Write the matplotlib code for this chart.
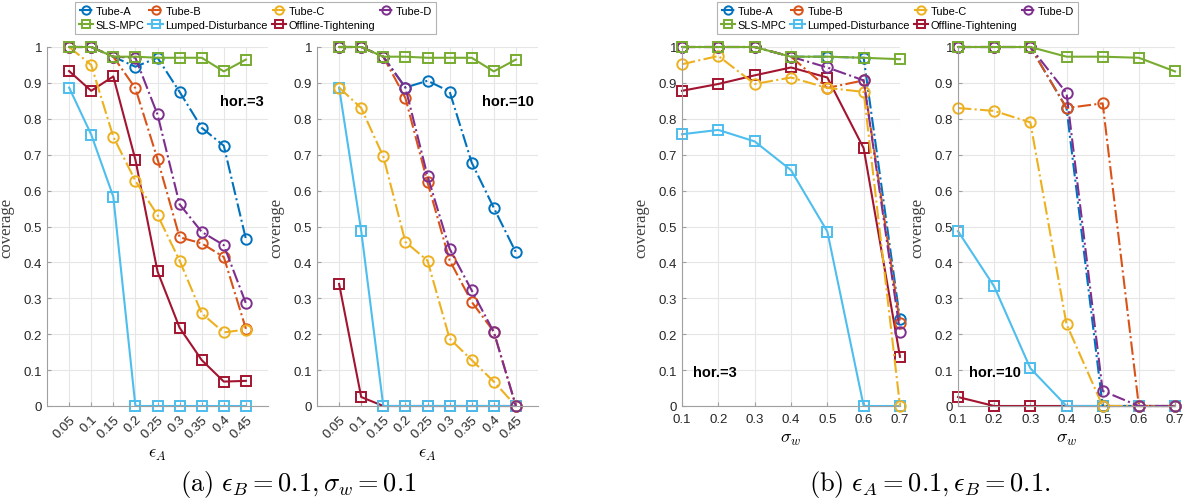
import numpy as np
import matplotlib
matplotlib.use("Agg")
import matplotlib.pyplot as plt

plt.rcParams['font.family'] = ['Liberation Sans', 'DejaVu Sans']
plt.rcParams['mathtext.fontset'] = 'cm'

# ---- data ----
eps_a = [0.05, 0.1, 0.15, 0.2, 0.25, 0.3, 0.35, 0.4, 0.45]
sigma_w = [0.1, 0.2, 0.3, 0.4, 0.5, 0.6, 0.7]

names = ['Tube-A', 'Tube-B', 'Tube-C', 'Tube-D', 'SLS-MPC',
         'Lumped-Disturbance', 'Offline-Tightening']

# (a) sweep over eps_A, horizon 3
a3_tube_a = [1, 1, 0.973, 0.945, 0.970, 0.875, 0.775, 0.725, 0.465]
a3_tube_b = [1, 1, 0.973, 0.885, 0.688, 0.470, 0.453, 0.415, 0.215]
a3_tube_c = [1, 0.950, 0.750, 0.627, 0.532, 0.405, 0.258, 0.205, 0.213]
a3_tube_d = [1, 1, 0.973, 0.970, 0.812, 0.562, 0.485, 0.448, 0.286]
a3_sls = [1, 1, 0.973, 0.973, 0.970, 0.970, 0.970, 0.932, 0.965]
a3_lumped = [0.887, 0.756, 0.583, 0, 0, 0, 0, 0, 0]
a3_offline = [0.933, 0.878, 0.918, 0.686, 0.375, 0.218, 0.128, 0.068, 0.070]

# (a) sweep over eps_A, horizon 10
a10_tube_a = [1, 1, 0.973, 0.887, 0.906, 0.876, 0.678, 0.552, 0.428]
a10_tube_b = [1, 1, 0.973, 0.858, 0.623, 0.406, 0.290, 0.207, 0]
a10_tube_c = [0.887, 0.830, 0.695, 0.457, 0.405, 0.188, 0.128, 0.068, 0]
a10_tube_d = [1, 1, 0.973, 0.887, 0.641, 0.438, 0.322, 0.206, 0]
a10_sls = [1, 1, 0.973, 0.973, 0.970, 0.970, 0.970, 0.932, 0.965]
a10_lumped = [0.887, 0.488, 0, 0, 0, 0, 0, 0, 0]
a10_offline = [0.340, 0.025, 0, 0, 0, 0, 0, 0, 0]

# (b) sweep over sigma_w, horizon 3
b3_tube_a = [1, 1, 1, 0.973, 0.973, 0.970, 0.241]
b3_tube_b = [1, 1, 1, 0.973, 0.886, 0.907, 0.230]
b3_tube_c = [0.952, 0.975, 0.897, 0.915, 0.886, 0.875, 0]
b3_tube_d = [1, 1, 1, 0.973, 0.943, 0.907, 0.206]
b3_sls = [1, 1, 1, 0.973, 0.973, 0.970, 0.966]
b3_lumped = [0.757, 0.769, 0.737, 0.657, 0.486, 0, 0]
b3_offline = [0.878, 0.897, 0.921, 0.943, 0.915, 0.718, 0.137]

# (b) sweep over sigma_w, horizon 10
b10_tube_a = [1, 1, 1, 0.830, 0, 0, 0]
b10_tube_b = [1, 1, 1, 0.830, 0.843, 0, 0]
b10_tube_c = [0.830, 0.822, 0.790, 0.228, 0, 0, 0]
b10_tube_d = [1, 1, 1, 0.872, 0.042, 0, 0]
b10_sls = [1, 1, 1, 0.973, 0.973, 0.970, 0.932]
b10_lumped = [0.487, 0.333, 0.105, 0, 0, 0, 0]
b10_offline = [0.025, 0, 0, 0, 0, 0, 0]

colors = ['#0072BD', '#D95319', '#EDB120', '#7E2F8E', '#77AC30',
          '#4DBEEE', '#A2142F']
styles = ['-.', '-.', '-.', '-.', '-', '-', '-']
markers = ['o', 'o', 'o', 'o', 's', 's', 's']

W, H = 1190, 502
fig = plt.figure(figsize=(W / 100, H / 100), dpi=100)


def make_ax(l, r, top=48, bot=407):
    return fig.add_axes([l / W, (H - bot) / H, (r - l) / W, (bot - top) / H])


def draw(ax, x, series, xlim, rotate, hor_txt, hor_pos, hor_ha):
    # SLS drawn last so it sits on top like the original
    order = [6, 5, 0, 1, 2, 3, 4]
    hs = {}
    for i in order:
        h, = ax.plot(x, series[i], linestyle=styles[i], color=colors[i],
                     marker=markers[i], markersize=7.5, markerfacecolor='none',
                     markeredgewidth=1.4, linewidth=1.5, label=names[i],
                     clip_on=False)
        hs[i] = h
    ax.set_xlim(xlim)
    ax.set_ylim(0, 1)
    ax.set_yticks(np.arange(0, 1.01, 0.1))
    ax.set_yticklabels(['0'] + ['%.1f' % v for v in np.arange(0.1, 0.95, 0.1)] + ['1'])
    ax.set_xticks(x)
    ax.set_xticklabels([('%g' % v) for v in x],
                       rotation=45 if rotate else 0,
                       ha='right' if rotate else 'center',
                       rotation_mode='anchor' if rotate else 'default')
    ax.grid(True, color='#e6e6e6', linewidth=0.8)
    ax.set_axisbelow(True)
    for s in ['top', 'right']:
        ax.spines[s].set_visible(False)
    for s in ['left', 'bottom']:
        ax.spines[s].set_color('#a0a0a0')
    ax.tick_params(direction='in', length=3, color='#a0a0a0',
                   labelsize=9.5, labelcolor='#262626')
    ax.tick_params(axis='x', pad=5)
    ax.set_ylabel('coverage', family='Liberation Serif', fontsize=12,
                  color='#404040', labelpad=7)
    ax.text(hor_pos[0], hor_pos[1], hor_txt, transform=ax.transAxes,
            fontsize=10.5, fontweight='bold', ha=hor_ha, va='center')
    return [hs[i] for i in range(7)]


ax1 = make_ax(47, 268)
h = draw(ax1, eps_a, [a3_tube_a, a3_tube_b, a3_tube_c, a3_tube_d, a3_sls,
                      a3_lumped, a3_offline],
         (0, 0.5), True, 'hor.=3', (0.98, 0.85), 'right')
ax1.set_xlabel(r'$\epsilon_A$', fontsize=13, labelpad=4)

ax2 = make_ax(317, 538)
draw(ax2, eps_a, [a10_tube_a, a10_tube_b, a10_tube_c, a10_tube_d, a10_sls,
                  a10_lumped, a10_offline],
     (0, 0.5), True, 'hor.=10', (0.98, 0.85), 'right')
ax2.set_xlabel(r'$\epsilon_A$', fontsize=13, labelpad=4)

ax3 = make_ax(682, 900)
draw(ax3, sigma_w, [b3_tube_a, b3_tube_b, b3_tube_c, b3_tube_d, b3_sls,
                    b3_lumped, b3_offline],
     (0.1, 0.7), False, 'hor.=3', (0.05, 0.095), 'left')
ax3.set_xlabel(r'$\sigma_w$', fontsize=13, labelpad=4)

ax4 = make_ax(958, 1175)
draw(ax4, sigma_w, [b10_tube_a, b10_tube_b, b10_tube_c, b10_tube_d, b10_sls,
                    b10_lumped, b10_offline],
     (0.1, 0.7), False, 'hor.=10', (0.05, 0.095), 'left')
ax4.set_xlabel(r'$\sigma_w$', fontsize=13, labelpad=4)

# legend rows: Tube-A..Tube-D / SLS, Lumped, Offline (column-major fill)
leg_order = [0, 4, 1, 5, 2, 6, 3]
for cx in [(78 + 433) / 2 / W, (725 + 1070) / 2 / W]:
    leg = fig.legend([h[i] for i in leg_order], [names[i] for i in leg_order],
                     loc='center', bbox_to_anchor=(cx, 1 - 19 / H), ncol=4,
                     fontsize=7.9, frameon=True, fancybox=False,
                     edgecolor='#a0a0a0', handlelength=1.35, handletextpad=0.2,
                     columnspacing=0.35, labelspacing=0.35, borderpad=0.35,
                     markerscale=0.8)
    leg.get_frame().set_linewidth(0.8)

fig.text(298 / W, 1 - 485 / H, r'$\mathrm{(a)}\ \epsilon_B = 0.1, \sigma_w = 0.1$',
         ha='center', va='center', fontsize=19)
fig.text(930 / W, 1 - 485 / H, r'$\mathrm{(b)}\ \epsilon_A = 0.1, \epsilon_B = 0.1.$',
         ha='center', va='center', fontsize=19)

fig.savefig('out.png', dpi=100)
